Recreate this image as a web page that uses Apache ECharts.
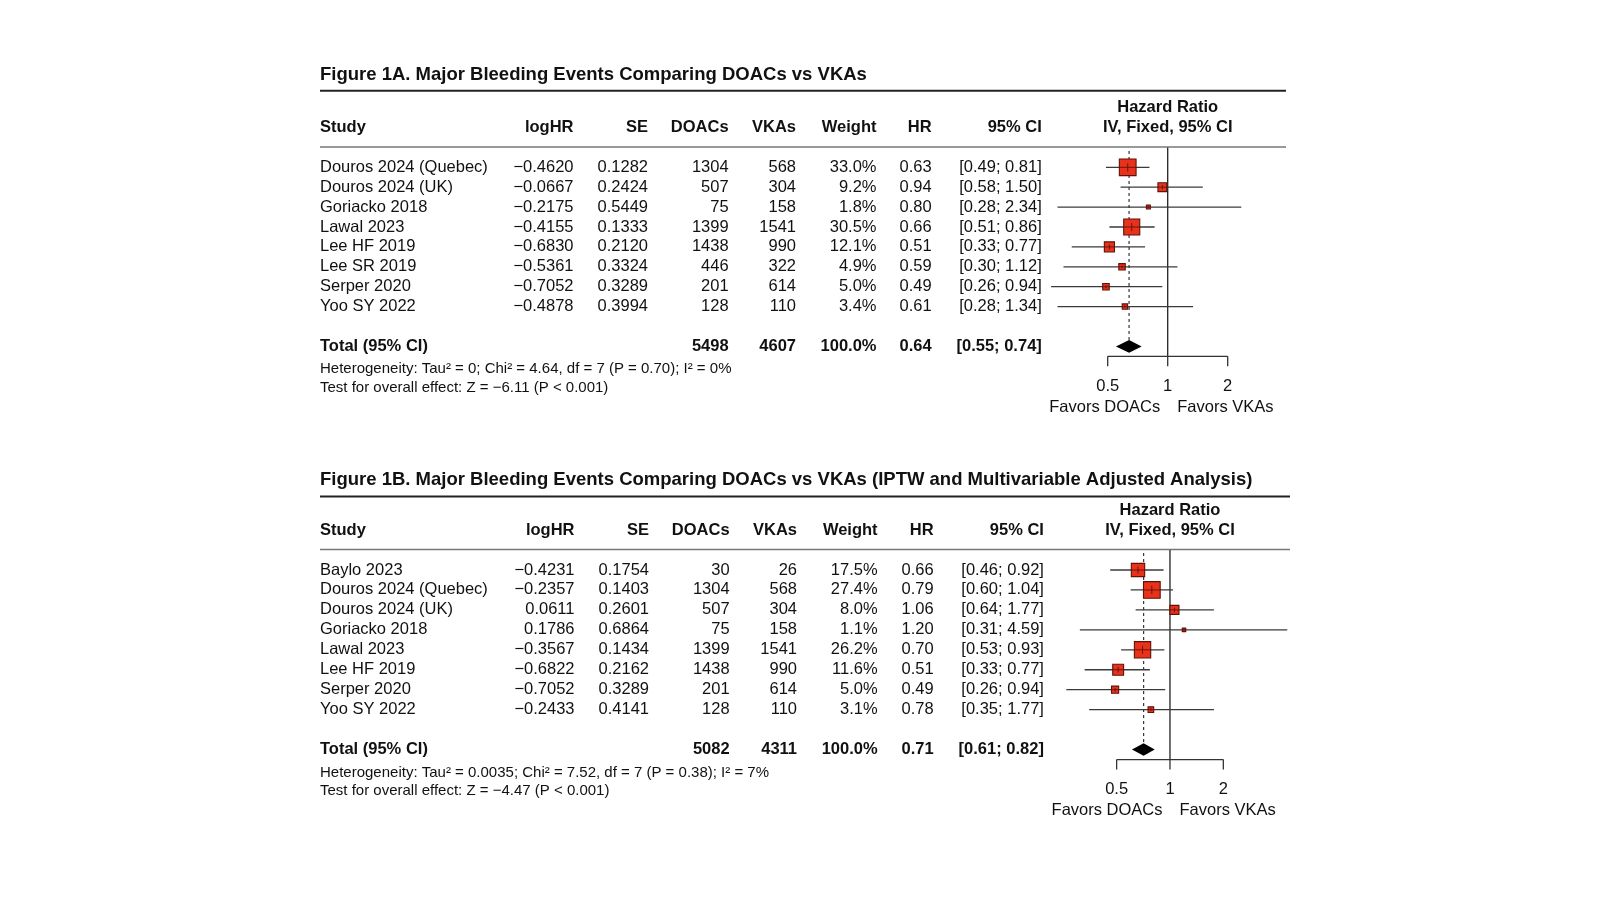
<!DOCTYPE html>
<html><head><meta charset="utf-8">
<script src="https://cdn.jsdelivr.net/npm/echarts@6/dist/echarts.min.js"></script>
<style>html,body{margin:0;padding:0;background:#fff}#c{width:1600px;height:900px}</style>
</head><body><div id="c"></div><script>
// ---------- Panel A data ----------
const titleA = 'Figure 1A. Major Bleeding Events Comparing DOACs vs VKAs';
const studiesA = ['Douros 2024 (Quebec)','Douros 2024 (UK)','Goriacko 2018','Lawal 2023','Lee HF 2019','Lee SR 2019','Serper 2020','Yoo SY 2022'];
const logHRA = [-0.4620,-0.0667,-0.2175,-0.4155,-0.6830,-0.5361,-0.7052,-0.4878];
const seA = [0.1282,0.2424,0.5449,0.1333,0.2120,0.3324,0.3289,0.3994];
const doacsA = [1304,507,75,1399,1438,446,201,128];
const vkasA = [568,304,158,1541,990,322,614,110];
const weightA = [33.0,9.2,1.8,30.5,12.1,4.9,5.0,3.4];
const hrA = [0.63,0.94,0.80,0.66,0.51,0.59,0.49,0.61];
const ciLowA = [0.49,0.58,0.28,0.51,0.33,0.30,0.26,0.28];
const ciHighA = [0.81,1.50,2.34,0.86,0.77,1.12,0.94,1.34];
const totalA = {doacs:5498, vkas:4607, weight:100.0, hr:0.64, lo:0.55, hi:0.74};
const hetA = 'Heterogeneity: Tau² = 0; Chi² = 4.64, df = 7 (P = 0.70); I² = 0%';
const testA = 'Test for overall effect: Z = −6.11 (P < 0.001)';

// ---------- Panel B data ----------
const titleB = 'Figure 1B. Major Bleeding Events Comparing DOACs vs VKAs (IPTW and Multivariable Adjusted Analysis)';
const studiesB = ['Baylo 2023','Douros 2024 (Quebec)','Douros 2024 (UK)','Goriacko 2018','Lawal 2023','Lee HF 2019','Serper 2020','Yoo SY 2022'];
const logHRB = [-0.4231,-0.2357,0.0611,0.1786,-0.3567,-0.6822,-0.7052,-0.2433];
const seB = [0.1754,0.1403,0.2601,0.6864,0.1434,0.2162,0.3289,0.4141];
const doacsB = [30,1304,507,75,1399,1438,201,128];
const vkasB = [26,568,304,158,1541,990,614,110];
const weightB = [17.5,27.4,8.0,1.1,26.2,11.6,5.0,3.1];
const hrB = [0.66,0.79,1.06,1.20,0.70,0.51,0.49,0.78];
const ciLowB = [0.46,0.60,0.64,0.31,0.53,0.33,0.26,0.35];
const ciHighB = [0.92,1.04,1.77,4.59,0.93,0.77,0.94,1.77];
const totalB = {doacs:5082, vkas:4311, weight:100.0, hr:0.71, lo:0.61, hi:0.82};
const hetB = 'Heterogeneity: Tau² = 0.0035; Chi² = 7.52, df = 7 (P = 0.38); I² = 7%';
const testB = 'Test for overall effect: Z = −4.47 (P < 0.001)';

// ---------- shared labels ----------
const headers = ['Study','logHR','SE','DOACs','VKAs','Weight','HR','95% CI'];
const hrHeader = ['Hazard Ratio','IV, Fixed, 95% CI'];
const tickValues = [0.5, 1, 2];
const tickLabels = ['0.5','1','2'];
const favorLabels = ['Favors DOACs','Favors VKAs'];

const FONT = '"Liberation Sans", Arial, Helvetica, sans-serif';
const FS = 16.5;

function fmtNum(v, d){ const s = Math.abs(v).toFixed(d); return v < 0 ? '\u2212' + s : s; }

function buildPanel(k, P, L) {
  const series = [];
  const txt = (x, y, s, align, bold, size) => ({
    type:'text', x:x, y:y,
    style:{text:s, fontFamily:FONT, fontSize:size||FS, fontWeight:bold?'bold':'normal', fill:'#111', align:align, verticalAlign:'middle'}
  });
  const C = L.cols;
  // table rows
  series.push({
    type:'custom', xAxisIndex:k, yAxisIndex:k, silent:true, clip:false,
    data: P.studies.map((s,i)=>[1,i]),
    encode:{x:0,y:1},
    renderItem:(params, api)=>{
      const i = params.dataIndex;
      const y = api.coord([1, api.value(1)])[1];
      return {type:'group', children:[
        txt(C[0], y, P.studies[i], 'left'),
        txt(C[1], y, fmtNum(P.logHR[i],4), 'right'),
        txt(C[2], y, P.se[i].toFixed(4), 'right'),
        txt(C[3], y, String(P.doacs[i]), 'right'),
        txt(C[4], y, String(P.vkas[i]), 'right'),
        txt(C[5], y, P.weight[i].toFixed(1)+'%', 'right'),
        txt(C[6], y, P.hr[i].toFixed(2), 'right'),
        txt(C[7], y, '['+P.lo[i].toFixed(2)+'; '+P.hi[i].toFixed(2)+']', 'right')
      ]};
    }
  });
  // header, total, footers
  series.push({
    type:'custom', xAxisIndex:k, yAxisIndex:k, silent:true, clip:false,
    data:[[1,-2]], encode:{x:0,y:1},
    renderItem:(params, api)=>{
      const yh = api.coord([1,-2])[1];
      const yt = api.coord([1,9])[1];
      const yf1 = api.coord([1,10.15])[1];
      const yf2 = api.coord([1,11.07])[1];
      const x1 = api.coord([1,0])[0];
      const ch = headers.map((h,j)=>txt(C[j], yh, h, j===0?'left':'right', true));
      const T = P.total;
      return {type:'group', children: ch.concat([
        txt(x1, api.coord([1,-3])[1], hrHeader[0], 'center', true),
        txt(x1, yh, hrHeader[1], 'center', true),
        txt(C[0], yt, 'Total (95% CI)', 'left', true),
        txt(C[3], yt, String(T.doacs), 'right', true),
        txt(C[4], yt, String(T.vkas), 'right', true),
        txt(C[5], yt, T.weight.toFixed(1)+'%', 'right', true),
        txt(C[6], yt, T.hr.toFixed(2), 'right', true),
        txt(C[7], yt, '['+T.lo.toFixed(2)+'; '+T.hi.toFixed(2)+']', 'right', true),
        txt(C[0], yf1, P.het, 'left', false, 15),
        txt(C[0], yf2, P.test, 'left', false, 15)
      ])};
    }
  });
  // reference lines (solid at 1, dashed at pooled estimate)
  series.push({
    type:'custom', xAxisIndex:k, yAxisIndex:k, silent:true, clip:false,
    data:[[1, P.total.hr]], encode:{x:0},
    renderItem:(params, api)=>{
      const a = api.coord([1,-1]), b = api.coord([1,9.5]);
      const d1 = api.coord([P.total.hr, L.dashTop]), d2 = api.coord([P.total.hr, 8.72]);
      return {type:'group', children:[
        {type:'line', shape:{x1:a[0],y1:a[1],x2:b[0],y2:b[1]}, style:{stroke:'#222', lineWidth:1.3}},
        {type:'line', shape:{x1:d1[0],y1:d1[1],x2:d2[0],y2:d2[1]}, style:{stroke:'#333', lineWidth:1.2, lineDash:[3,3]}}
      ]};
    }
  });
  // CIs and squares
  const wmax = Math.max.apply(null, P.weight);
  series.push({
    type:'custom', xAxisIndex:k, yAxisIndex:k, silent:true, clip:false,
    data: P.hr.map((h,i)=>[h, i, P.lo[i], P.hi[i], P.weight[i]]),
    encode:{x:0,y:1},
    renderItem:(params, api)=>{
      const row = api.value(1);
      const c = api.coord([api.value(0), row]);
      const lo = api.coord([api.value(2), row]);
      const hi = api.coord([api.value(3), row]);
      const s = Math.max(3.5, L.maxSide * Math.sqrt(api.value(4)/wmax));
      return {type:'group', children:[
        {type:'line', shape:{x1:lo[0],y1:c[1],x2:hi[0],y2:c[1]}, style:{stroke:'#3a3a3a', lineWidth:1.3}},
        {type:'rect', shape:{x:c[0]-s/2, y:c[1]-s/2, width:s, height:s}, style:{fill:'#e8321c', stroke:'#5e1208', lineWidth:1.1}},
        {type:'line', shape:{x1:c[0]-s/2,y1:c[1],x2:c[0]+s/2,y2:c[1]}, style:{stroke:'#5e1208', lineWidth:0.9}},
        {type:'line', shape:{x1:c[0],y1:c[1]-s/4,x2:c[0],y2:c[1]+s/4}, style:{stroke:'#5e1208', lineWidth:0.9}}
      ]};
    }
  });
  // pooled diamond
  series.push({
    type:'custom', xAxisIndex:k, yAxisIndex:k, silent:true, clip:false,
    data:[[P.total.hr, 9, P.total.lo, P.total.hi]], encode:{x:0,y:1},
    renderItem:(params, api)=>{
      const c = api.coord([api.value(0), 9]);
      const l = api.coord([api.value(2), 9]);
      const r = api.coord([api.value(3), 9]);
      const h = 6.3;
      return {type:'polygon', shape:{points:[[l[0],c[1]],[c[0],c[1]-h],[r[0],c[1]],[c[0],c[1]+h]]}, style:{fill:'#000'}};
    }
  });
  // bracket axis with tick labels
  series.push({
    type:'custom', xAxisIndex:k, yAxisIndex:k, silent:true, clip:false,
    data: tickValues.map((v,i)=>[v, 9.5, i]), encode:{x:0},
    renderItem:(params, api)=>{
      const i = params.dataIndex;
      const p = api.coord([api.value(0), 9.5]);
      const q = api.coord([api.value(0), 10]);
      const ch = [
        {type:'line', shape:{x1:p[0],y1:p[1],x2:q[0],y2:q[1]}, style:{stroke:'#333', lineWidth:1.3}},
        txt(p[0], api.coord([1, 11.0])[1], tickLabels[i], 'center')
      ];
      if (i === 0) {
        const e = api.coord([tickValues[tickValues.length-1], 9.5]);
        ch.push({type:'line', shape:{x1:p[0],y1:p[1],x2:e[0],y2:e[1]}, style:{stroke:'#333', lineWidth:1.3}});
        const x1 = api.coord([1, 12.05]);
        ch.push(txt(x1[0]-7.5, x1[1], favorLabels[0], 'right'));
        ch.push(txt(x1[0]+9.5, x1[1], favorLabels[1], 'left'));
      }
      return {type:'group', children:ch};
    }
  });
  return series;
}

const PA = {studies:studiesA, logHR:logHRA, se:seA, doacs:doacsA, vkas:vkasA, weight:weightA, hr:hrA, lo:ciLowA, hi:ciHighA, total:totalA, het:hetA, test:testA};
const PB = {studies:studiesB, logHR:logHRB, se:seB, doacs:doacsB, vkas:vkasB, weight:weightB, hr:hrB, lo:ciLowB, hi:ciHighB, total:totalB, het:hetB, test:testB};
const LA = {cols:[320,573.5,648,728.6,796,876.5,931.6,1041.8], maxSide:16.7, dashTop:-0.82};
const LB = {cols:[320,574.5,649,729.6,797,877.6,933.7,1043.9], maxSide:16.7, dashTop:-0.85};

const chart = echarts.init(document.getElementById('c'), null, {renderer:'canvas'});
const option = {
  backgroundColor:'#fff',
  animation:false,
  grid:[
    {left:1047.7, width:240, top:147.4, height:218.9},
    {left:1063.3, width:266.7, top:550.05, height:219.45}
  ],
  xAxis:[
    {type:'log', logBase:2, min:0.25, max:4, gridIndex:0, show:false},
    {type:'log', logBase:2, min:0.25, max:8, gridIndex:1, show:false}
  ],
  yAxis:[
    {type:'value', min:-1, max:10, inverse:true, gridIndex:0, show:false},
    {type:'value', min:-1, max:10, inverse:true, gridIndex:1, show:false}
  ],
  graphic:[
    {type:'text', x:320, y:74.5, style:{text:titleA, fontFamily:FONT, fontSize:18.5, fontWeight:'bold', fill:'#111', verticalAlign:'middle'}},
    {type:'line', shape:{x1:320,y1:90.8,x2:1286,y2:90.8}, style:{stroke:'#222', lineWidth:2}},
    {type:'line', shape:{x1:320,y1:147,x2:1286,y2:147}, style:{stroke:'#777', lineWidth:1.5}},
    {type:'text', x:320, y:479.6, style:{text:titleB, fontFamily:FONT, fontSize:18.5, fontWeight:'bold', fill:'#111', verticalAlign:'middle'}},
    {type:'line', shape:{x1:320,y1:496.5,x2:1290,y2:496.5}, style:{stroke:'#222', lineWidth:2}},
    {type:'line', shape:{x1:320,y1:549.5,x2:1290,y2:549.5}, style:{stroke:'#777', lineWidth:1.5}}
  ],
  series: buildPanel(0, PA, LA).concat(buildPanel(1, PB, LB))
};
chart.setOption(option);
</script></body></html>
